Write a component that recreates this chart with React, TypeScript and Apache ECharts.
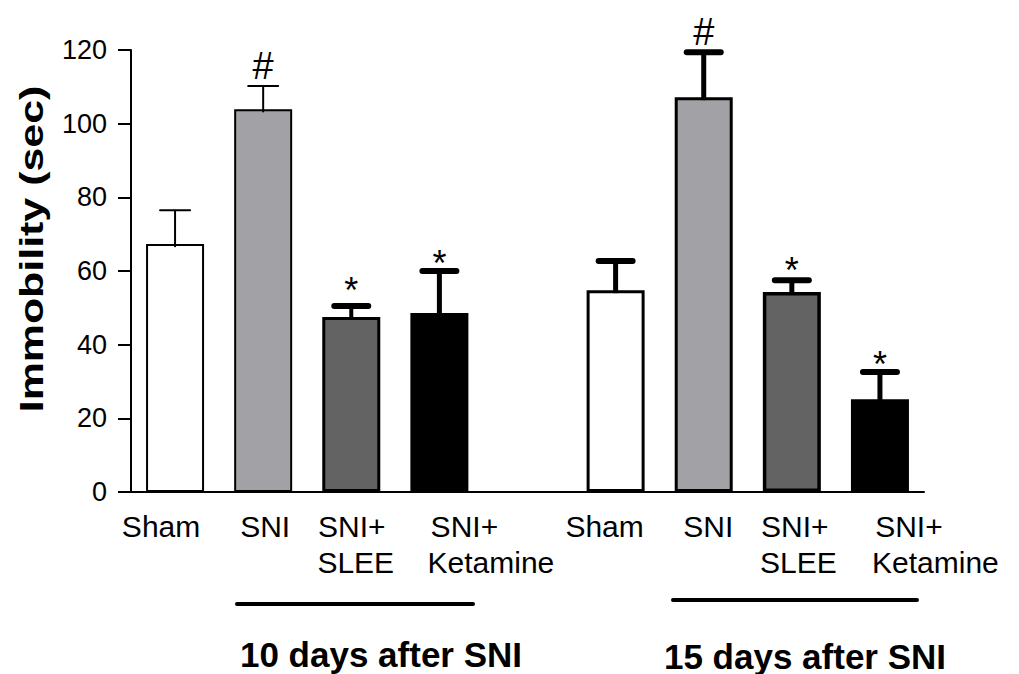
import React, { useEffect, useRef } from "react";
import * as echarts from "echarts";

// ---- data ----
const categoryKeys = ["d10_sham", "d10_sni", "d10_slee", "d10_ket", "gap", "d15_sham", "d15_sni", "d15_slee", "d15_ket"];
const labelLine1 = ["Sham", "SNI", "SNI+", "SNI+", "", "Sham", "SNI", "SNI+", "SNI+"];
const labelLine2 = ["", "", "SLEE", "Ketamine", "", "", "", "SLEE", "Ketamine"];
const meanValues = [67.3, 103.9, 47.5, 48.6, null, 54.8, 107.2, 54.3, 25.2];
const errorTopValues = [76.5, 110.2, 50.5, 60.0, null, 62.7, 119.4, 57.5, 32.6];
const annotations = ["", "#", "*", "*", "", "", "#", "*", "*"];
const yTicks = [0, 20, 40, 60, 80, 100, 120];
const groupTitles = ["10 days after SNI", "15 days after SNI"];

// ---- styles (not data) ----
const fills = ["#ffffff", "#a2a2a6", "#636363", "#000000", "#ffffff", "#ffffff", "#a2a2a6", "#636363", "#000000"];
const borderWidths = [2, 2, 3, 3, 0, 3, 3, 3.5, 3];
const errStemWidths = [2, 2, 4, 5, 0, 5, 5, 5, 5];
const errCapWidths = [2, 2, 6, 6, 0, 6, 6, 6, 6];
const errCapHalf = [15, 15, 17, 17, 0, 17, 17, 17, 17];
const annotGap = [0, 7, 13, 6, 0, 0, 7, 8, 5];
const labelShift1 = [-14, 2, 0.5, 25, 0, -11, 4.5, 3, 29];
const labelShift2 = [0, 0, 4.5, 51.5, 0, 0, 0, 6.5, 55.5];

const FONT = "'Liberation Sans', Arial, Helvetica, sans-serif";

function pad(d: number) {
  return d >= 0 ? [0, 0, 0, 2 * d] : [0, -2 * d, 0, 0];
}

export default function App() {
  const ref = useRef<HTMLDivElement>(null);
  useEffect(() => {
    if (!ref.current) return;
    const chart = echarts.init(ref.current, undefined, { renderer: "svg" });

    const rich: any = {};
    categoryKeys.forEach((_, i) => {
      rich["a" + i] = { fontSize: 30, fontFamily: FONT, color: "#000", lineHeight: 36, padding: pad(labelShift1[i]) };
      rich["b" + i] = { fontSize: 30, fontFamily: FONT, color: "#000", lineHeight: 36, padding: pad(labelShift2[i]) };
    });

    const barData = meanValues.map((v, i) =>
      v === null
        ? "-"
        : {
            value: v,
            itemStyle: { color: fills[i], borderColor: "#000", borderWidth: borderWidths[i] },
          }
    );

    const errData: any[] = [];
    meanValues.forEach((v, i) => {
      if (v !== null) errData.push([i, v, errorTopValues[i]]);
    });

    chart.setOption({
      animation: false,
      backgroundColor: "#ffffff",
      grid: { left: 131, right: 95, top: 50, bottom: 182, containLabel: false },
      xAxis: {
        type: "category",
        data: categoryKeys,
        boundaryGap: true,
        axisLine: { show: true, onZero: false, lineStyle: { color: "#000", width: 2 } },
        axisTick: { show: false },
        axisLabel: {
          interval: 0,
          margin: 16,
          formatter: (val: string) => {
            const i = categoryKeys.indexOf(val);
            if (!labelLine1[i]) return "";
            let s = `{a${i}|${labelLine1[i]}}`;
            if (labelLine2[i]) s += `\n{b${i}|${labelLine2[i]}}`;
            return s;
          },
          rich,
        },
        splitLine: { show: false },
      },
      yAxis: {
        type: "value",
        min: 0,
        max: 120,
        interval: 20,
        axisLine: { show: true, lineStyle: { color: "#000", width: 2 } },
        axisTick: { show: true, length: 13, lineStyle: { color: "#000", width: 2 } },
        axisLabel: {
          margin: 24,
          fontSize: 27,
          fontFamily: FONT,
          color: "#000",
          formatter: (v: number) => (yTicks.includes(v) ? String(v) : ""),
        },
        splitLine: { show: false },
      },
      series: [
        {
          type: "bar",
          data: barData,
          barWidth: 58,
          z: 2,
        },
        {
          type: "custom",
          z: 3,
          data: errData,
          encode: { x: 0, y: [1, 2] },
          renderItem: (params: any, api: any) => {
            const i = api.value(0);
            const base = api.coord([i, api.value(1)]);
            const top = api.coord([i, api.value(2)]);
            const capHalf = errCapHalf[i];
            const ann = annotations[i];
            const children: any[] = [
              {
                type: "line",
                shape: { x1: base[0], y1: base[1] + 3, x2: top[0], y2: top[1] },
                style: { stroke: "#000", lineWidth: errStemWidths[i] },
              },
              {
                type: "line",
                shape: { x1: top[0] - capHalf, y1: top[1], x2: top[0] + capHalf, y2: top[1] },
                style: { stroke: "#000", lineWidth: errCapWidths[i], lineCap: "round" },
              },
            ];
            if (ann) {
              const isHash = ann === "#";
              const fs = isHash ? 38 : 36;
              const y = isHash ? top[1] - annotGap[i] + 6 : top[1] + 16 - annotGap[i];
              children.push({
                type: "text",
                x: top[0],
                y,
                style: {
                  text: ann,
                  fontSize: fs,
                  fontFamily: FONT,
                  fill: "#000",
                  align: "center",
                  verticalAlign: "bottom",
                },
              });
            }
            return { type: "group", children };
          },
        },
      ],
      graphic: [
        {
          type: "text",
          x: 31,
          y: 249,
          rotation: Math.PI / 2,
          scaleX: 1.3,
          style: {
            text: "Immobility (sec)",
            fontSize: 33,
            fontWeight: "bold",
            fontFamily: FONT,
            fill: "#000",
            align: "center",
            verticalAlign: "middle",
          },
        },
        {
          type: "line",
          shape: { x1: 237, y1: 604, x2: 473, y2: 604 },
          style: { stroke: "#000", lineWidth: 4, lineCap: "round" },
        },
        {
          type: "line",
          shape: { x1: 673, y1: 600, x2: 917, y2: 600 },
          style: { stroke: "#000", lineWidth: 4, lineCap: "round" },
        },
        {
          type: "text",
          x: 381,
          y: 654,
          style: {
            text: groupTitles[0],
            fontSize: 35,
            fontWeight: "bold",
            fontFamily: FONT,
            fill: "#000",
            align: "center",
            verticalAlign: "middle",
          },
        },
        {
          type: "text",
          x: 805,
          y: 656,
          style: {
            text: groupTitles[1],
            fontSize: 35,
            fontWeight: "bold",
            fontFamily: FONT,
            fill: "#000",
            align: "center",
            verticalAlign: "middle",
          },
        },
      ],
    });
    return () => chart.dispose();
  }, []);
  return (
    <div
      ref={ref}
      style={{ position: "fixed", left: 0, top: 0, width: 1019, height: 674, background: "#fff" }}
    />
  );
}
